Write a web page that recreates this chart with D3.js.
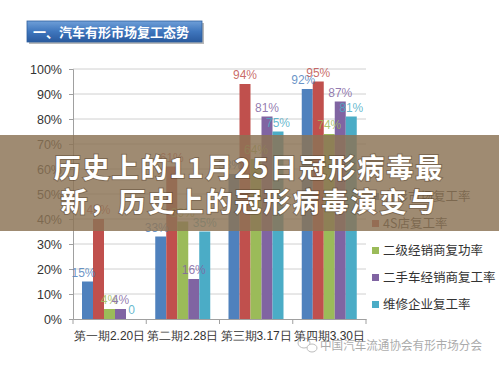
<!DOCTYPE html>
<html>
<head>
<meta charset="utf-8">
<script src="https://cdn.jsdelivr.net/npm/d3@7"></script>
<style>
  body { margin: 0; background: #fff; }
  svg { display: block; font-family: "Noto Sans CJK SC", "Noto Sans", sans-serif; }
</style>
</head>
<body>
<svg id="chart"></svg>
<script>
const width = 499;
const height = 367;

// data (some values hidden by the banner are estimates)
const categories = ["第一期2.20日", "第二期2.28日", "第三期3.17日", "第四期3.30日"];
const seriesNames = ["有形市场复工率", "4S店复工率", "二级经销商复功率", "二手车经销商复工率", "维修企业复工率"];
const seriesColors = ["#4f81bd", "#c0504d", "#9bbb59", "#8064a2", "#4bacc6"];
const values = [
  [15, 33, 58, 92],   // 有形市场
  [40, 61, 94, 95],   // 4S店
  [4, 39, 64, 74],    // 二级经销商
  [4, 16, 81, 87],    // 二手车经销商
  [0, 35, 75, 81]     // 维修企业
];
const yTicks = [0, 10, 20, 30, 40, 50, 60, 70, 80, 90, 100];

const svg = d3.select("#chart")
  .attr("width", width)
  .attr("height", height);

// title box
const grad = svg.append("defs").append("linearGradient")
  .attr("id", "titleGrad").attr("x1", 0).attr("y1", 0).attr("x2", 0).attr("y2", 1);
grad.append("stop").attr("offset", "0%").attr("stop-color", "#6f9fd8");
grad.append("stop").attr("offset", "50%").attr("stop-color", "#3f76bd");
grad.append("stop").attr("offset", "100%").attr("stop-color", "#2a5a9e");

svg.append("rect")
  .attr("x", 29).attr("y", 23).attr("width", 175).attr("height", 21)
  .attr("fill", "#b8b8b8");
svg.append("rect")
  .attr("x", 27).attr("y", 21).attr("width", 175).attr("height", 21)
  .attr("fill", "url(#titleGrad)")
  .attr("stroke", "#2f5f9f").attr("stroke-width", 0.8);
svg.append("text")
  .attr("x", 33).attr("y", 36.5)
  .attr("fill", "#fff")
  .attr("font-size", 13)
  .attr("font-weight", "bold")
  .text("一、汽车有形市场复工态势");

// scales
const x0 = d3.scaleBand().domain(categories).range([73, 366]);
const x1 = d3.scaleBand().domain(d3.range(seriesNames.length)).range([9, 64]);
const y = d3.scaleLinear().domain([0, 100]).range([319, 69]);

// gridlines
svg.append("g")
  .selectAll("line")
  .data(yTicks.slice(1))
  .join("line")
  .attr("x1", 73).attr("x2", 366)
  .attr("y1", d => y(d)).attr("y2", d => y(d))
  .attr("stroke", "#d0d0d0").attr("stroke-width", 1);

// y axis
const yAxis = svg.append("g")
  .attr("transform", "translate(73,0)")
  .call(d3.axisLeft(y).tickValues(yTicks).tickFormat(d => d + "%").tickSize(4).tickPadding(7));
yAxis.select(".domain").attr("stroke", "#a0a0a0");
yAxis.selectAll(".tick line").attr("stroke", "#a0a0a0");
yAxis.selectAll("text")
  .attr("fill", "#333")
  .attr("font-size", 12.5)
  .attr("font-family", "Liberation Sans, Arial, sans-serif");

// x axis
const xAxis = svg.append("g")
  .attr("transform", "translate(0,319)")
  .call(d3.axisBottom(x0).tickSizeInner(0).tickSizeOuter(0).tickPadding(12));
xAxis.select(".domain").attr("stroke", "#a0a0a0");
xAxis.selectAll("text")
  .attr("fill", "#333")
  .attr("font-size", 12)
  .attr("textLength", 71)
  .attr("lengthAdjust", "spacingAndGlyphs");
svg.append("g")
  .selectAll("line")
  .data([73, ...categories.map(c => x0(c) + x0.bandwidth())])
  .join("line")
  .attr("x1", d => d).attr("x2", d => d)
  .attr("y1", 319).attr("y2", 324)
  .attr("stroke", "#a0a0a0");

// bars
const bars = [];
values.forEach((row, s) => row.forEach((v, c) => bars.push({ s, c, v })));

svg.append("g")
  .selectAll("rect")
  .data(bars)
  .join("rect")
  .attr("x", d => x0(categories[d.c]) + x1(d.s))
  .attr("width", x1.bandwidth())
  .attr("y", d => y(d.v))
  .attr("height", d => y(0) - y(d.v))
  .attr("fill", d => seriesColors[d.s]);

// data labels
svg.append("g")
  .selectAll("text")
  .data(bars)
  .join("text")
  .attr("x", d => x0(categories[d.c]) + x1(d.s) + x1.bandwidth() / 2 - (d.s === 0 ? 4 : 0))
  .attr("y", d => y(d.v) - 5)
  .attr("text-anchor", "middle")
  .attr("font-size", 12)
  .attr("font-family", "Liberation Sans, Arial, sans-serif")
  .attr("fill", d => seriesColors[d.s])
  .attr("fill-opacity", 0.85)
  .text(d => d.v === 0 ? "0" : d.v + "%");

// legend
const legend = svg.append("g")
  .selectAll("g")
  .data(seriesNames)
  .join("g")
  .attr("transform", (d, i) => `translate(372,${196 + i * 27})`);
legend.append("rect")
  .attr("x", 0).attr("y", -3).attr("width", 7).attr("height", 7)
  .attr("fill", (d, i) => seriesColors[i]);
legend.append("text")
  .attr("x", 11).attr("y", 5)
  .attr("font-size", 12.5)
  .attr("fill", "#333")
  .text(d => d);

// watermark
const wm = svg.append("g").attr("opacity", 0.55);
wm.append("ellipse").attr("cx", 304).attr("cy", 343).attr("rx", 6).attr("ry", 5)
  .attr("fill", "none").attr("stroke", "#888");
wm.append("ellipse").attr("cx", 312).attr("cy", 348).attr("rx", 5).attr("ry", 4)
  .attr("fill", "#fff").attr("stroke", "#888");
wm.append("text")
  .attr("x", 320).attr("y", 350)
  .attr("font-size", 12)
  .attr("textLength", 162)
  .attr("lengthAdjust", "spacingAndGlyphs")
  .attr("fill", "#666")
  .text("中国汽车流通协会有形市场分会");

// banner overlay
svg.append("rect")
  .attr("x", 0).attr("y", 135).attr("width", width).attr("height", 96)
  .attr("fill", "#8b7355").attr("fill-opacity", 0.83);

const bannerLines = ["历史上的11月25日冠形病毒最", "新，历史上的冠形病毒演变与"];
svg.append("g")
  .selectAll("text")
  .data(bannerLines)
  .join("text")
  .attr("x", 249)
  .attr("y", (d, i) => 178 + i * 34)
  .attr("text-anchor", "middle")
  .attr("font-size", 27)
  .attr("font-weight", "bold")
  .attr("letter-spacing", 2)
  .attr("fill", "#fff")
  .style("paint-order", "stroke")
  .attr("stroke", "rgba(60,40,20,0.35)")
  .attr("stroke-width", 2)
  .text(d => d);
</script>
</body>
</html>
